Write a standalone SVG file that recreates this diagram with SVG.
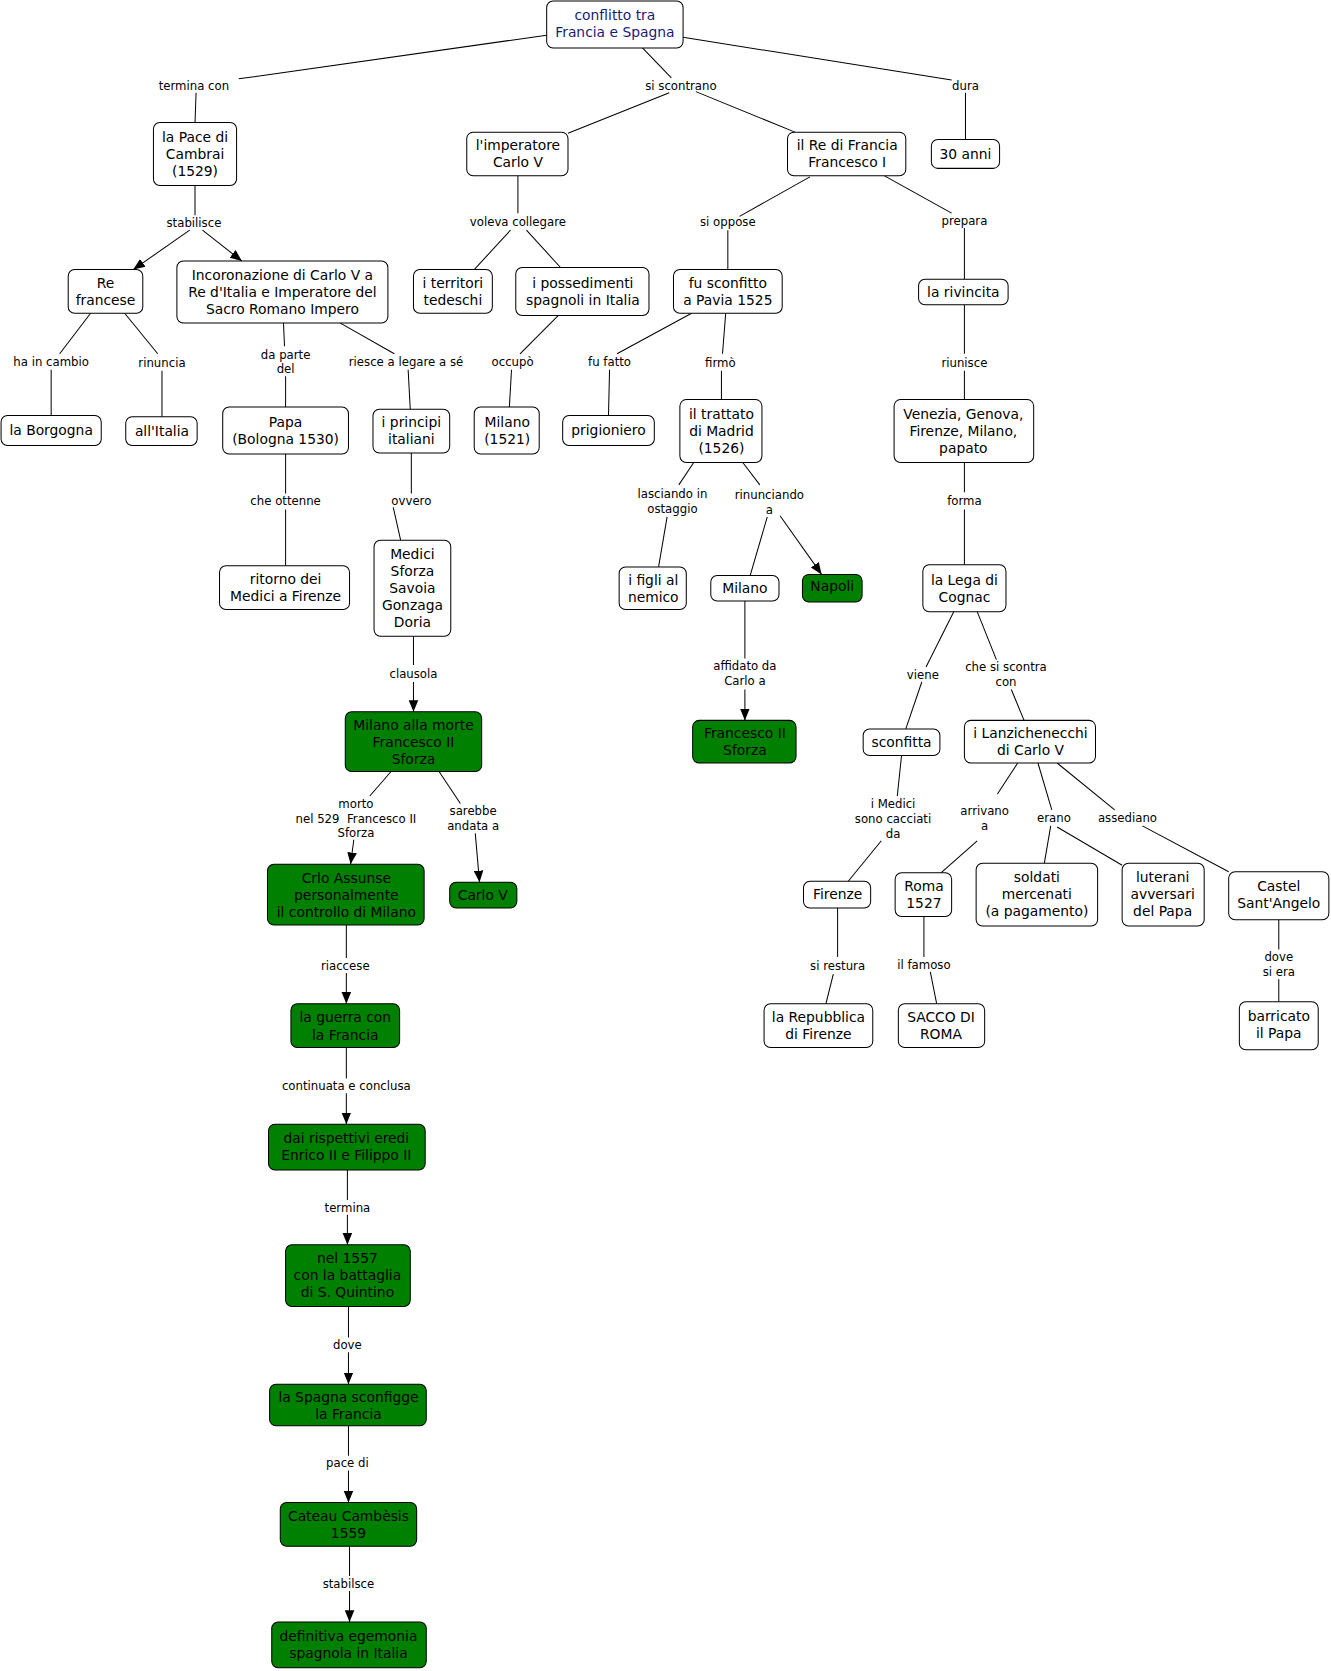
<svg xmlns="http://www.w3.org/2000/svg" width="1331" height="1671" viewBox="0 0 1331 1671">
<style>
.n{fill:#fff;stroke:#000;stroke-width:0.95}
.g{fill:#008000;stroke:#000;stroke-width:0.95}
.t{font-family:"DejaVu Sans",Verdana,sans-serif;font-size:13px;fill:#000;text-anchor:middle}
.tg{font-family:"DejaVu Sans",Verdana,sans-serif;font-size:13px;fill:#000;text-anchor:middle}
.tr{font-family:"DejaVu Sans",Verdana,sans-serif;font-size:13px;fill:#1a1a78;text-anchor:middle}
.l{font-family:"DejaVu Sans",Verdana,sans-serif;font-size:11px;fill:#000;text-anchor:middle}
.c line{stroke:#000;stroke-width:0.95;fill:none}
</style>
<defs>
<marker id="ar" markerUnits="userSpaceOnUse" markerWidth="12" markerHeight="12" viewBox="0 0 12 12" refX="11" refY="6" orient="auto">
<path d="M0,1.5 L11,6 L0,10.5 Z" fill="#000"/>
</marker>
</defs>
<rect width="1331" height="1671" fill="#fff"/>
<g transform="scale(1.06565)">
<g id="connectors" class="c">
<line x1="513" y1="33" x2="224" y2="74"/><line x1="184" y1="87" x2="183" y2="115"/>
<line x1="602" y1="44" x2="630" y2="73"/><line x1="628" y1="87" x2="533" y2="125"/><line x1="653" y1="86" x2="746" y2="124"/>
<line x1="641" y1="35" x2="893" y2="75"/><line x1="906" y1="87" x2="906" y2="131"/>
<line x1="183" y1="174" x2="183" y2="202"/><line x1="178" y1="216" x2="125" y2="253" marker-end="url(#ar)"/><line x1="190" y1="216" x2="227" y2="245" marker-end="url(#ar)"/>
<line x1="486" y1="165" x2="486" y2="200"/><line x1="479" y1="216" x2="445" y2="253"/><line x1="494" y1="216" x2="526" y2="251"/>
<line x1="760" y1="166" x2="694" y2="203"/><line x1="683" y1="216" x2="683" y2="253"/>
<line x1="830" y1="165" x2="893" y2="200"/><line x1="905" y1="214" x2="905" y2="262"/>
<line x1="85" y1="294" x2="56" y2="332"/><line x1="48" y1="347" x2="48" y2="390"/>
<line x1="117" y1="294" x2="148" y2="332"/><line x1="152" y1="348" x2="152" y2="391"/>
<line x1="266" y1="303" x2="267" y2="325"/><line x1="268" y1="353" x2="268" y2="382"/>
<line x1="319" y1="303" x2="370" y2="332"/><line x1="383" y1="347" x2="385" y2="384"/>
<line x1="524" y1="296" x2="488" y2="332"/><line x1="480" y1="347" x2="478" y2="382"/>
<line x1="649" y1="294" x2="579" y2="332"/><line x1="572" y1="347" x2="571" y2="390"/>
<line x1="681" y1="294" x2="678" y2="332"/><line x1="677" y1="348" x2="677" y2="375"/>
<line x1="905" y1="286" x2="905" y2="332"/><line x1="905" y1="348" x2="905" y2="375"/>
<line x1="268" y1="426" x2="268" y2="463"/><line x1="268" y1="478" x2="268" y2="531"/>
<line x1="386" y1="425" x2="386" y2="463"/><line x1="369" y1="476" x2="376" y2="507"/>
<line x1="651" y1="434" x2="637" y2="455"/><line x1="626" y1="485" x2="618" y2="532"/>
<line x1="697" y1="434" x2="713" y2="455"/><line x1="720" y1="485" x2="704" y2="540"/><line x1="732" y1="484" x2="771" y2="539" marker-end="url(#ar)"/>
<line x1="905" y1="434" x2="905" y2="462"/><line x1="905" y1="478" x2="905" y2="530"/>
<line x1="388" y1="597" x2="388" y2="624"/><line x1="388" y1="640" x2="388" y2="668" marker-end="url(#ar)"/>
<line x1="699" y1="564" x2="699" y2="618"/><line x1="699" y1="647" x2="699" y2="676" marker-end="url(#ar)"/>
<line x1="895" y1="574" x2="869" y2="626"/><line x1="865" y1="640" x2="850" y2="684"/>
<line x1="917" y1="574" x2="935" y2="619"/><line x1="949" y1="647" x2="961" y2="676"/>
<line x1="367" y1="724" x2="347" y2="747"/><line x1="332" y1="788" x2="329" y2="811" marker-end="url(#ar)"/>
<line x1="412" y1="724" x2="432" y2="754"/><line x1="446" y1="782" x2="450" y2="828" marker-end="url(#ar)"/>
<line x1="846" y1="709" x2="842" y2="747"/><line x1="827" y1="789" x2="796" y2="827"/>
<line x1="955" y1="716" x2="936" y2="745"/><line x1="917" y1="789" x2="883" y2="819"/>
<line x1="974" y1="716" x2="987" y2="760"/><line x1="986" y1="775" x2="980" y2="810"/><line x1="992" y1="776" x2="1053" y2="812"/>
<line x1="992" y1="716" x2="1046" y2="760"/><line x1="1072" y1="775" x2="1153" y2="818"/>
<line x1="786" y1="852" x2="786" y2="898"/><line x1="782" y1="914" x2="775" y2="942"/>
<line x1="867" y1="860" x2="867" y2="898"/><line x1="873" y1="912" x2="879" y2="942"/>
<line x1="1200" y1="863" x2="1200" y2="891"/><line x1="1200" y1="919" x2="1200" y2="940"/>
<line x1="325" y1="868" x2="325" y2="899"/><line x1="325" y1="913" x2="325" y2="942" marker-end="url(#ar)"/>
<line x1="325" y1="983" x2="325" y2="1012"/><line x1="325" y1="1026" x2="325" y2="1055" marker-end="url(#ar)"/>
<line x1="326" y1="1098" x2="326" y2="1126"/><line x1="326" y1="1140" x2="326" y2="1168" marker-end="url(#ar)"/>
<line x1="327" y1="1226" x2="327" y2="1255"/><line x1="327" y1="1269" x2="327" y2="1299" marker-end="url(#ar)"/>
<line x1="327" y1="1338" x2="327" y2="1366"/><line x1="327" y1="1380" x2="327" y2="1410" marker-end="url(#ar)"/>
<line x1="328" y1="1451" x2="328" y2="1479"/><line x1="328" y1="1493" x2="328" y2="1522" marker-end="url(#ar)"/>
</g>
<g id="labels">
<text class="l" x="182" y="84">termina con</text>
<text class="l" x="639" y="84">si scontrano</text>
<text class="l" x="906" y="84">dura</text>
<text class="l" x="182" y="213">stabilisce</text>
<text class="l" x="486" y="212">voleva collegare</text>
<text class="l" x="683" y="212">si oppose</text>
<text class="l" x="905" y="211">prepara</text>
<text class="l" x="48" y="343">ha in cambio</text>
<text class="l" x="152" y="344">rinuncia</text>
<text class="l" x="268" y="337">da parte</text><text class="l" x="268" y="350">del</text>
<text class="l" x="381" y="343">riesce a legare a sé</text>
<text class="l" x="481" y="343">occupò</text>
<text class="l" x="572" y="343">fu fatto</text>
<text class="l" x="676" y="344">firmò</text>
<text class="l" x="905" y="344">riunisce</text>
<text class="l" x="268" y="474">che ottenne</text>
<text class="l" x="386" y="474">ovvero</text>
<text class="l" x="631" y="467">lasciando in</text><text class="l" x="631" y="481">ostaggio</text>
<text class="l" x="722" y="468">rinunciando</text><text class="l" x="722" y="482">a</text>
<text class="l" x="905" y="474">forma</text>
<text class="l" x="388" y="636">clausola</text>
<text class="l" x="699" y="629">affidato da</text><text class="l" x="699" y="643">Carlo a</text>
<text class="l" x="866" y="637">viene</text>
<text class="l" x="944" y="630">che si scontra</text><text class="l" x="944" y="644">con</text>
<text class="l" x="334" y="758">morto</text><text class="l" x="334" y="772">nel 529&#160; Francesco II</text><text class="l" x="334" y="785">Sforza</text>
<text class="l" x="444" y="765">sarebbe</text><text class="l" x="444" y="779">andata a</text>
<text class="l" x="838" y="758">i Medici</text><text class="l" x="838" y="772">sono cacciati</text><text class="l" x="838" y="786">da</text>
<text class="l" x="924" y="765">arrivano</text><text class="l" x="924" y="779">a</text>
<text class="l" x="989" y="771">erano</text>
<text class="l" x="1058" y="771">assediano</text>
<text class="l" x="786" y="910">si restura</text>
<text class="l" x="867" y="909">il famoso</text>
<text class="l" x="1200" y="902">dove</text><text class="l" x="1200" y="916">si era</text>
<text class="l" x="324" y="910">riaccese</text>
<text class="l" x="325" y="1023">continuata e conclusa</text>
<text class="l" x="326" y="1137">termina</text>
<text class="l" x="326" y="1266">dove</text>
<text class="l" x="326" y="1377">pace di</text>
<text class="l" x="327" y="1490">stabilsce</text>
</g>
<g id="root"><rect class="n" x="513" y="1" width="128" height="44" rx="6"/><text class="tr" x="577" y="18.5">conflitto tra</text><text class="tr" x="577" y="34.5">Francia e Spagna</text></g>
<g id="pace"><rect class="n" x="144" y="115" width="78" height="59" rx="6"/><text class="t" x="183" y="133">la Pace di</text><text class="t" x="183" y="149">Cambrai</text><text class="t" x="183" y="165">(1529)</text></g>
<g id="imperatore"><rect class="n" x="438" y="124" width="95" height="41" rx="6"/><text class="t" x="486" y="141">l'imperatore</text><text class="t" x="486" y="157">Carlo V</text></g>
<g id="refrancia"><rect class="n" x="739" y="124" width="111" height="41" rx="6"/><text class="t" x="795" y="141">il Re di Francia</text><text class="t" x="795" y="157">Francesco I</text></g>
<g id="anni"><rect class="n" x="874" y="131" width="64" height="27" rx="6"/><text class="t" x="906" y="149">30 anni</text></g>
<g id="refrancese"><rect class="n" x="64" y="253" width="70" height="41" rx="6"/><text class="t" x="99" y="270">Re</text><text class="t" x="99" y="286">francese</text></g>
<g id="incoronazione"><rect class="n" x="166" y="245" width="198" height="58" rx="6"/><text class="t" x="265" y="262.5">Incoronazione di Carlo V a</text><text class="t" x="265" y="278.5">Re d'Italia e Imperatore del</text><text class="t" x="265" y="294.5">Sacro Romano Impero</text></g>
<g id="territori"><rect class="n" x="388" y="253" width="74" height="41" rx="6"/><text class="t" x="425" y="270">i territori</text><text class="t" x="425" y="286">tedeschi</text></g>
<g id="possedimenti"><rect class="n" x="484" y="251" width="125" height="45" rx="6"/><text class="t" x="547" y="270">i possedimenti</text><text class="t" x="547" y="286">spagnoli in Italia</text></g>
<g id="pavia"><rect class="n" x="632" y="253" width="102" height="41" rx="6"/><text class="t" x="683" y="270">fu sconfitto</text><text class="t" x="683" y="286">a Pavia 1525</text></g>
<g id="rivincita"><rect class="n" x="862" y="262" width="84" height="24" rx="6"/><text class="t" x="904" y="278.5">la rivincita</text></g>
<g id="borgogna"><rect class="n" x="1" y="390" width="94" height="28" rx="6"/><text class="t" x="48" y="408.5">la Borgogna</text></g>
<g id="allitalia"><rect class="n" x="118" y="391" width="67" height="27" rx="6"/><text class="t" x="152" y="409">all'Italia</text></g>
<g id="papa"><rect class="n" x="209" y="382" width="118" height="44" rx="6"/><text class="t" x="268" y="400.5">Papa</text><text class="t" x="268" y="416.5">(Bologna 1530)</text></g>
<g id="principi"><rect class="n" x="350" y="384" width="72" height="41" rx="6"/><text class="t" x="386" y="401">i principi</text><text class="t" x="386" y="417">italiani</text></g>
<g id="milano1521"><rect class="n" x="445" y="382" width="61" height="44" rx="6"/><text class="t" x="476" y="400.5">Milano</text><text class="t" x="476" y="416.5">(1521)</text></g>
<g id="prigioniero"><rect class="n" x="528" y="390" width="86" height="28" rx="6"/><text class="t" x="571" y="408.5">prigioniero</text></g>
<g id="trattato"><rect class="n" x="638" y="375" width="77" height="59" rx="6"/><text class="t" x="677" y="393">il trattato</text><text class="t" x="677" y="409">di Madrid</text><text class="t" x="677" y="425">(1526)</text></g>
<g id="venezia"><rect class="n" x="839" y="375" width="131" height="59" rx="6"/><text class="t" x="904" y="393">Venezia, Genova,</text><text class="t" x="904" y="409">Firenze, Milano,</text><text class="t" x="904" y="425">papato</text></g>
<g id="ritorno"><rect class="n" x="206" y="531" width="122" height="41" rx="6"/><text class="t" x="268" y="548">ritorno dei</text><text class="t" x="268" y="564">Medici a Firenze</text></g>
<g id="medici"><rect class="n" x="351" y="507" width="72" height="90" rx="6"/><text class="t" x="387" y="524.5">Medici</text><text class="t" x="387" y="540.5">Sforza</text><text class="t" x="387" y="556.5">Savoia</text><text class="t" x="387" y="572.5">Gonzaga</text><text class="t" x="387" y="588.5">Doria</text></g>
<g id="figli"><rect class="n" x="581" y="532" width="63" height="40" rx="6"/><text class="t" x="613" y="548.5">i figli al</text><text class="t" x="613" y="564.5">nemico</text></g>
<g id="milano"><rect class="n" x="667" y="540" width="64" height="24" rx="6"/><text class="t" x="699" y="556.5">Milano</text></g>
<g id="napoli"><rect class="g" x="753" y="539" width="56" height="26" rx="6"/><text class="tg" x="781" y="555">Napoli</text></g>
<g id="lega"><rect class="n" x="866" y="530" width="78" height="44" rx="6"/><text class="t" x="905" y="548.5">la Lega di</text><text class="t" x="905" y="564.5">Cognac</text></g>
<g id="milanomorte"><rect class="g" x="324" y="668" width="128" height="56" rx="6"/><text class="tg" x="388" y="685">Milano alla morte</text><text class="tg" x="388" y="701">Francesco II</text><text class="tg" x="388" y="717">Sforza</text></g>
<g id="francescoII"><rect class="g" x="650" y="676" width="97" height="40" rx="6"/><text class="tg" x="699" y="692.5">Francesco II</text><text class="tg" x="699" y="708.5">Sforza</text></g>
<g id="sconfitta"><rect class="n" x="810" y="684" width="72" height="25" rx="6"/><text class="t" x="846" y="701">sconfitta</text></g>
<g id="lanzichenecchi"><rect class="n" x="905" y="676" width="123" height="40" rx="6"/><text class="t" x="967" y="692.5">i Lanzichenecchi</text><text class="t" x="967" y="708.5">di Carlo V</text></g>
<g id="crlo"><rect class="g" x="251" y="811" width="147" height="57" rx="6"/><text class="tg" x="325" y="828.5">Crlo Assunse</text><text class="tg" x="325" y="844.5">personalmente</text><text class="tg" x="325" y="860.5">il controllo di Milano</text></g>
<g id="carlov"><rect class="g" x="422" y="828" width="63" height="24" rx="6"/><text class="tg" x="453" y="844.5">Carlo V</text></g>
<g id="firenze"><rect class="n" x="754" y="827" width="63" height="25" rx="6"/><text class="t" x="786" y="844">Firenze</text></g>
<g id="roma"><rect class="n" x="840" y="819" width="53" height="41" rx="6"/><text class="t" x="867" y="836">Roma</text><text class="t" x="867" y="852">1527</text></g>
<g id="soldati"><rect class="n" x="916" y="810" width="114" height="59" rx="6"/><text class="t" x="973" y="828">soldati</text><text class="t" x="973" y="844">mercenati</text><text class="t" x="973" y="860">(a pagamento)</text></g>
<g id="luterani"><rect class="n" x="1053" y="810" width="77" height="59" rx="6"/><text class="t" x="1091" y="828">luterani</text><text class="t" x="1091" y="844">avversari</text><text class="t" x="1091" y="860">del Papa</text></g>
<g id="castel"><rect class="n" x="1153" y="818" width="94" height="45" rx="6"/><text class="t" x="1200" y="836.5">Castel</text><text class="t" x="1200" y="852.5">Sant'Angelo</text></g>
<g id="repubblica"><rect class="n" x="717" y="942" width="102" height="41" rx="6"/><text class="t" x="768" y="959">la Repubblica</text><text class="t" x="768" y="975">di Firenze</text></g>
<g id="sacco"><rect class="n" x="843" y="942" width="81" height="41" rx="6"/><text class="t" x="883" y="959">SACCO DI</text><text class="t" x="883" y="975">ROMA</text></g>
<g id="barricato"><rect class="n" x="1163" y="940" width="74" height="45" rx="6"/><text class="t" x="1200" y="958.5">barricato</text><text class="t" x="1200" y="974.5">il Papa</text></g>
<g id="guerra"><rect class="g" x="273" y="942" width="102" height="41" rx="6"/><text class="tg" x="324" y="959.5">la guerra con</text><text class="tg" x="324" y="975.5">la Francia</text></g>
<g id="eredi"><rect class="g" x="252" y="1055" width="147" height="43" rx="6"/><text class="tg" x="325" y="1072.5">dai rispettivi eredi</text><text class="tg" x="325" y="1088.5">Enrico II e Filippo II</text></g>
<g id="nel1557"><rect class="g" x="268" y="1168" width="117" height="58" rx="6"/><text class="tg" x="326" y="1185">nel 1557</text><text class="tg" x="326" y="1201">con la battaglia</text><text class="tg" x="326" y="1217">di S. Quintino</text></g>
<g id="spagna"><rect class="g" x="253" y="1299" width="147" height="39" rx="6"/><text class="tg" x="327" y="1315.5">la Spagna sconfigge</text><text class="tg" x="327" y="1331.5">la Francia</text></g>
<g id="cateau"><rect class="g" x="263" y="1410" width="128" height="41" rx="6"/><text class="tg" x="327" y="1427.5">Cateau Cambèsis</text><text class="tg" x="327" y="1443.5">1559</text></g>
<g id="egemonia"><rect class="g" x="255" y="1522" width="145" height="43" rx="6"/><text class="tg" x="327" y="1539.5">definitiva egemonia</text><text class="tg" x="327" y="1555.5">spagnola in Italia</text></g>
</g>
</svg>
